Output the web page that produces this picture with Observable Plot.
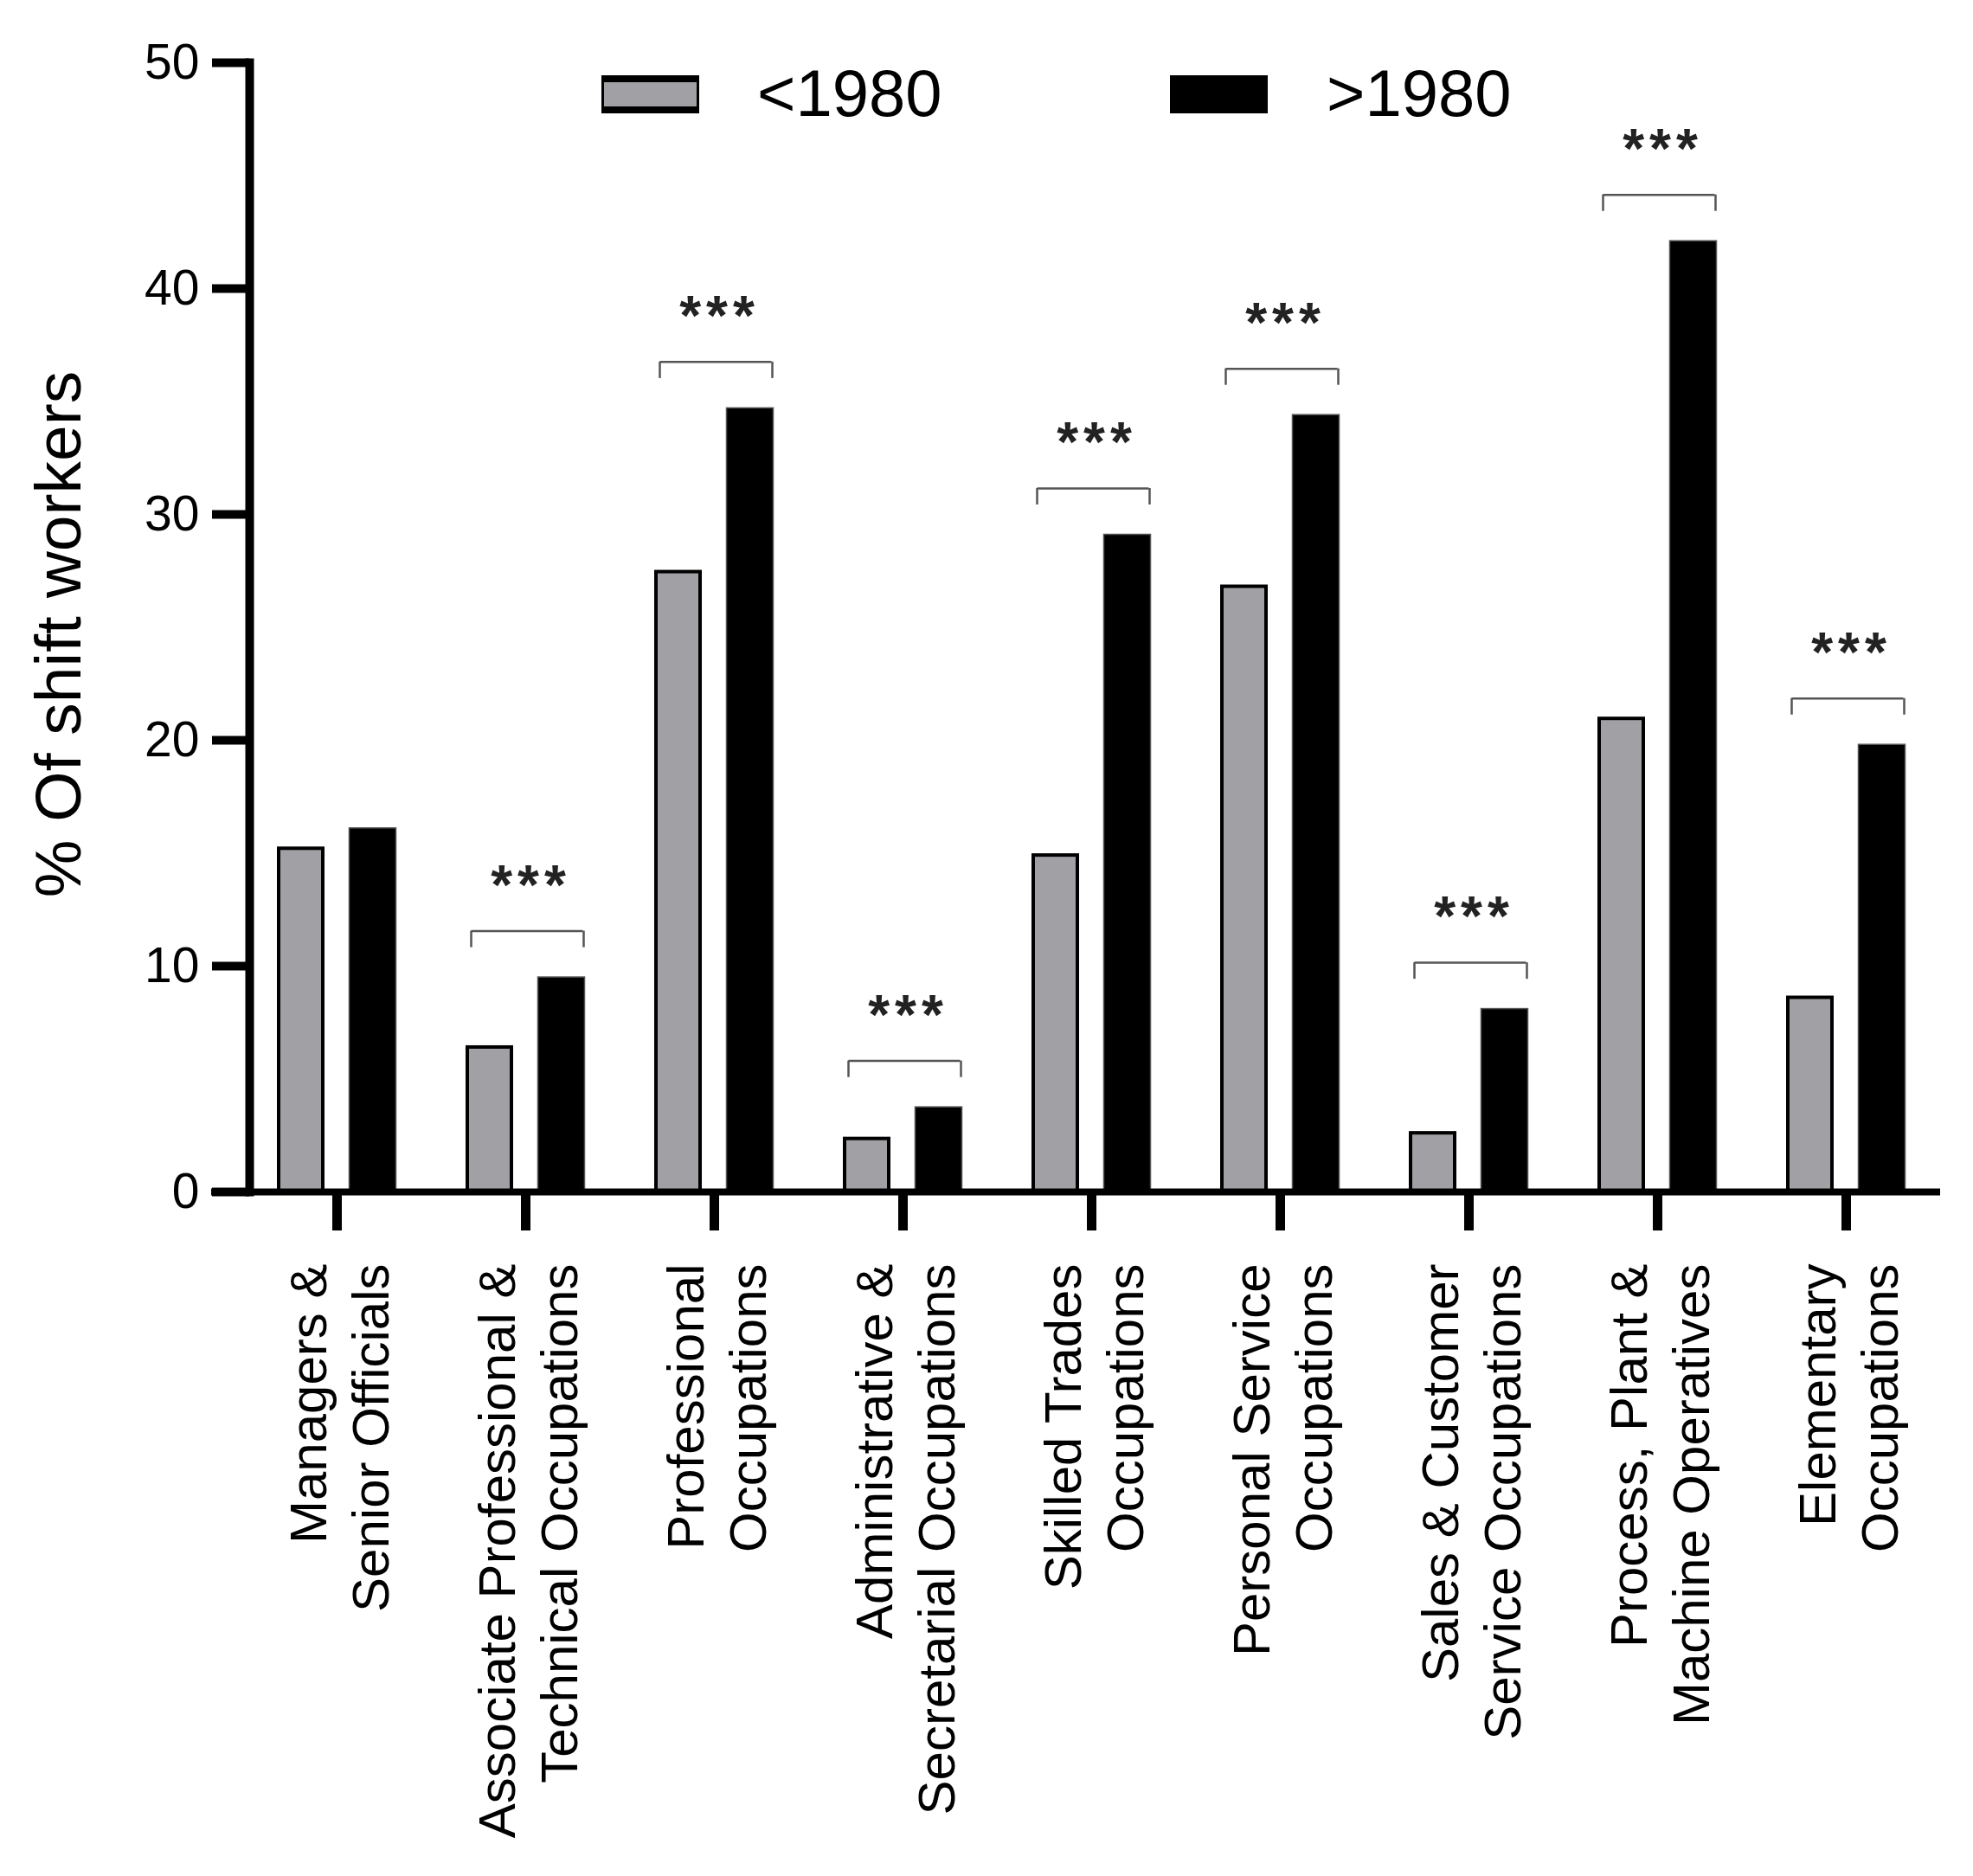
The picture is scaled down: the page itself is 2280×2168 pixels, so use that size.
<!DOCTYPE html>
<html><head><meta charset="utf-8">
<script src="https://cdn.jsdelivr.net/npm/d3@7"></script>
<script src="https://cdn.jsdelivr.net/npm/@observablehq/plot@0.6"></script>
<style>
html,body{margin:0;padding:0;background:#fff;}
#wrap{position:relative;width:2280px;height:2168px;font-family:"Liberation Sans",Arial,sans-serif;color:#000;}
#wrap svg{display:block;}
.sw{position:absolute;box-sizing:border-box;width:113px;height:44px;}
.lt{position:absolute;font-size:76px;line-height:1;white-space:nowrap;}
.stars text{letter-spacing:6px;font-weight:bold;}
</style></head><body><div id="wrap"></div>
<script>
const categories = [
  "Managers & Senior Officials",
  "Associate Professional & Technical Occupations",
  "Professional Occupations",
  "Administrative & Secretarial Occupations",
  "Skilled Trades Occupations",
  "Personal Service Occupations",
  "Sales & Customer Service Occupations",
  "Process, Plant & Machine Operatives",
  "Elementary Occupations"
];
const tickLabels = [
  "Managers &\nSenior Officials",
  "Associate Professional &\nTechnical Occupations",
  "Professional\nOccupations",
  "Administrative &\nSecretarial Occupations",
  "Skilled Trades\nOccupations",
  "Personal Service\nOccupations",
  "Sales & Customer\nService Occupations",
  "Process, Plant &\nMachine Operatives",
  "Elementary\nOccupations"
];
const before1980 = [15.2, 6.4, 27.45, 2.35, 14.9, 26.8, 2.6, 20.95, 8.6];
const after1980  = [16.1, 9.5, 34.7, 3.75, 29.1, 34.4, 8.1, 42.1, 19.8];
const significance = ["", "***", "***", "***", "***", "***", "***", "***", "***"];
const seriesNames = ["<1980", ">1980"];
const seriesColors = ["#a1a1a5", "#000000"];
const yTicks = [0, 10, 20, 30, 40, 50];
const yLabel = "% Of shift workers";

const sigRows = categories
  .map((c, i) => ({c, s: significance[i], top: Math.max(before1980[i], after1980[i]) + 2.05}))
  .filter(d => d.s);

const font = '"Liberation Sans", Arial, sans-serif';
const fmt = d => tickLabels[categories.indexOf(d)];

const chart = Plot.plot({
  width: 2280,
  height: 2168,
  marginTop: 72,
  marginBottom: 791,
  marginLeft: 288,
  marginRight: 38,
  style: {fontFamily: font, color: "#000", background: "#fff"},
  x: {domain: categories, range: [275.5, 2245.5], padding: 0, axis: null},
  y: {domain: [0, 50], axis: null},
  marks: [
    Plot.barY(before1980, {x: categories, y: before1980, fill: seriesColors[0], stroke: "#000", strokeWidth: 4, insetLeft: 42, insetRight: 125}),
    Plot.barY(after1980, {x: categories, y: after1980, fill: seriesColors[1], stroke: "#555", strokeWidth: 1.5, insetLeft: 123.5, insetRight: 40.5}),
    Plot.ruleY(sigRows, {x1: "c", x2: "c", y: "top", stroke: "#555", strokeWidth: 2.5, insetLeft: 46.5, insetRight: 42.5}),
    Plot.ruleX(sigRows, {x: "c", y1: "top", y2: d => d.top - 0.73, stroke: "#555", strokeWidth: 2.5, dx: -63}),
    Plot.ruleX(sigRows, {x: "c", y1: "top", y2: d => d.top - 0.73, stroke: "#555", strokeWidth: 2.5, dx: 67}),
    Plot.text(sigRows, {x: "c", y: "top", text: "s", dy: -52, dx: 6, fontSize: 64, fill: "#222", className: "stars"}),
    Plot.axisY({ticks: yTicks, tickSize: 43, tickPadding: 15, strokeWidth: 10, fontSize: 57, label: null}),
    Plot.frame({anchor: "left", strokeWidth: 10}),
    Plot.ruleY([0], {strokeWidth: 8, insetLeft: -44}),
    Plot.axisX({tickSize: 45, strokeWidth: 11, tickFormat: () => "", label: null}),
    Plot.axisX({tickSize: 0, tickPadding: 83, fontSize: 60, rotate: -90, textAnchor: "end", lineAnchor: "middle", lineHeight: 1.2, tickFormat: fmt, label: null}),
    Plot.text([yLabel], {frameAnchor: "left", textAnchor: "middle", rotate: -90, dx: -220, dy: 8, fontSize: 75})
  ]
});

const wrap = document.getElementById("wrap");
wrap.appendChild(chart);

// legend
const legendPos = [{sw: 695, tx: 875}, {sw: 1352, tx: 1533}];
seriesNames.forEach((name, i) => {
  const sw = document.createElement("div");
  sw.className = "sw";
  sw.style.left = legendPos[i].sw + "px";
  sw.style.top = "87px";
  sw.style.background = seriesColors[i];
  if (i === 0) { sw.style.borderTop = "8px solid #000"; sw.style.borderBottom = "8px solid #000"; sw.style.borderLeft = "3px solid #000"; sw.style.borderRight = "3px solid #000"; }
  wrap.appendChild(sw);
  const t = document.createElement("div");
  t.className = "lt";
  t.style.left = legendPos[i].tx + "px";
  t.style.top = "70px";
  t.textContent = name;
  wrap.appendChild(t);
});
</script>
</body></html>
